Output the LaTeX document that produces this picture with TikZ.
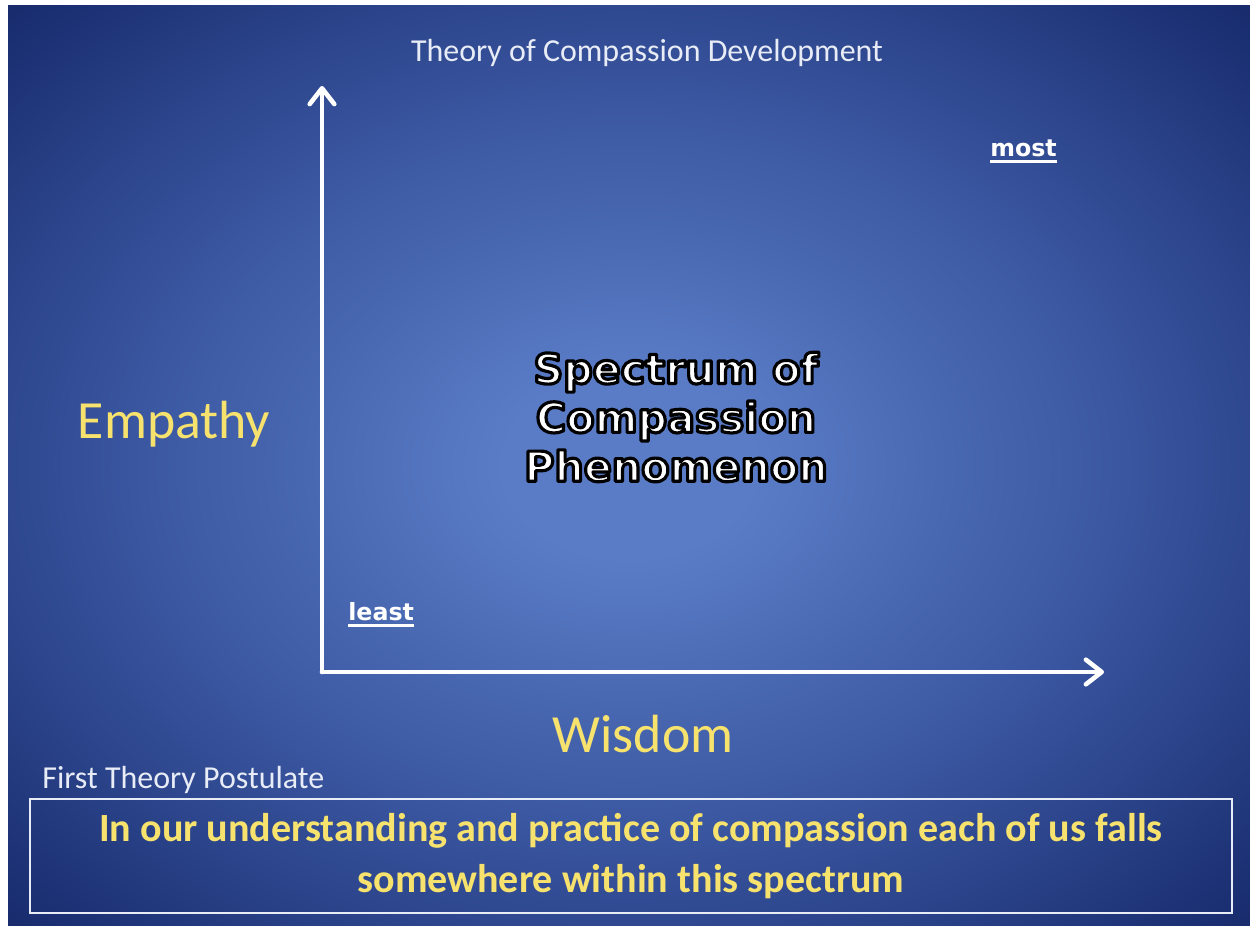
\documentclass[tikz,border=0pt]{standalone}
\usepackage{fontspec}
\setmainfont{Carlito}
\newfontfamily\widefont{DejaVu Sans}
\usetikzlibrary{arrows.meta}

\definecolor{bgin}{RGB}{90,124,198}
\definecolor{bgmid}{RGB}{58,86,160}
\definecolor{bgedge}{RGB}{24,44,110}
\definecolor{bgout}{RGB}{10,28,88}
\definecolor{rainbow}{RGB}{247,226,110}
\definecolor{paleline}{RGB}{232,236,246}
\pgfdeclareradialshading{slide}{\pgfpoint{0bp}{0bp}}{color(0bp)=(bgin); color(5bp)=(bgin); color(20bp)=(bgmid); color(35bp)=(bgedge); color(50bp)=(bgout)}

\begin{document}
\begin{tikzpicture}[x=0.02cm, y=-0.02cm]
    \tikzstyle{axis} = [draw=white, line width=2.6pt, line cap=round,
        -{Straight Barb[length=9pt, width=14pt, line cap=round, line join=round]}]
    \tikzstyle{caption} = [text=paleline, font=\fontsize{18.2}{22}\selectfont, inner sep=0pt]
    \tikzstyle{rainbowtext} = [text=rainbow, inner sep=0pt]
    \tikzstyle{endlabel} = [text=white, inner sep=0pt,
        font=\widefont\bfseries\fontsize{13.5}{16}\selectfont]
    \tikzstyle{underline} = [draw=white, line width=1.5pt]

    \useasboundingbox (0,0) rectangle (1250,926);

    % Slide ---------------------------------------------
    \shade[shading=slide] (8,6) rectangle (1250,925);
    \node[caption] (title) at (647,53) {Theory of Compassion Development};

    % Axes ----------------------------------------------
    \coordinate (origin) at (322,672);
    \coordinate (ytip) at (322,86);
    \coordinate (xtip) at (1104,672);
    \draw[axis] (origin) -- (ytip);
    \draw[axis] (origin) -- (xtip);

    \node[endlabel, anchor=base west] (most) at (990,156) {most};
    \node[endlabel, anchor=base west] (least) at (348,620) {least};
    \draw[underline] ([yshift=-3pt]most.base west) -- ([yshift=-3pt]most.base east);
    \draw[underline] ([yshift=-3pt]least.base west) -- ([yshift=-3pt]least.base east);

    \node[rainbowtext, font=\fontsize{30.6}{36}\selectfont] (empathy) at (174,424) {Empathy};
    \node[rainbowtext, font=\fontsize{30.6}{36}\selectfont] (wisdom) at (643,734) {Wisdom};

    % Spectrum ------------------------------------------
    \node[text=white, inner sep=0pt, align=center,
        font=\widefont\bfseries\fontsize{23.5}{27.8}\selectfont] (spectrum) at (676,417)
        {\special{pdf:literal direct 2 Tr 1 j 1.8 w 0 0 0 RG}Spectrum of\\
         Compassion\\
         Phenomenon\special{pdf:literal direct 0 Tr}};

    % Postulate -----------------------------------------
    \node[caption, anchor=west] (first) at (42,780) {First Theory Postulate};
    \node[draw=paleline, line width=1.1pt, minimum width=24.04cm, minimum height=2.28cm,
        inner sep=0pt, align=center, text=rainbow,
        font=\bfseries\fontsize{22.8}{29}\selectfont] (postulate) at (631,856)
        {In our understanding and practice of compassion each of us falls\\
         somewhere within this spectrum};
\end{tikzpicture}
\end{document}
